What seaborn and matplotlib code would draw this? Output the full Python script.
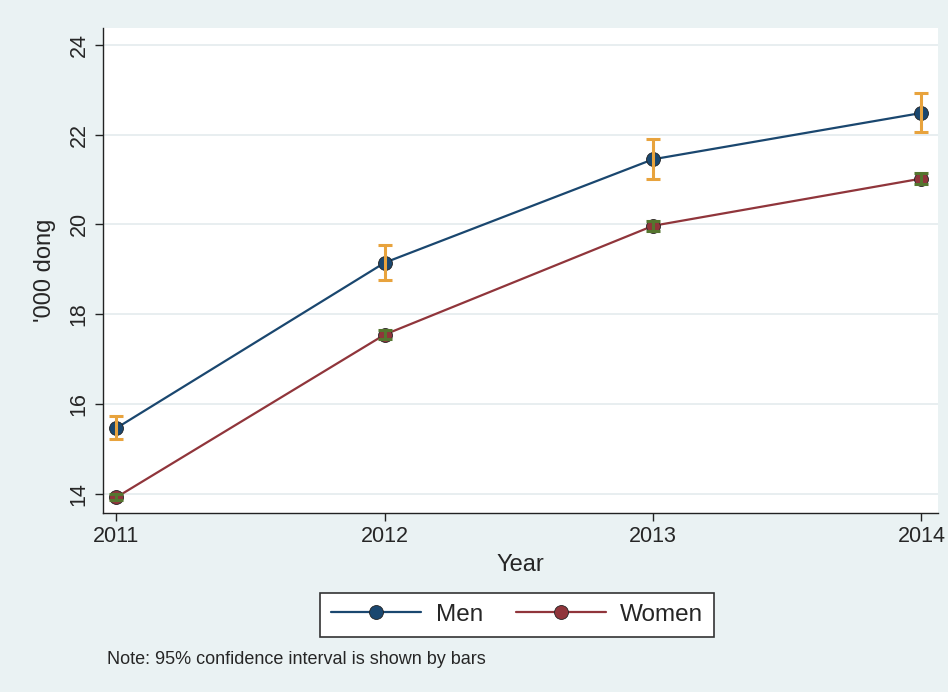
"""
Average earnings by sex, 2011-2014, with 95% confidence intervals
"""

import numpy as np
import pandas as pd
import matplotlib
matplotlib.use("Agg")
import matplotlib.pyplot as plt
import seaborn as sns

years = [2011, 2012, 2013, 2014]
men = [15.47, 19.15, 21.45, 22.48]
men_lo = [15.22, 18.76, 21.00, 22.05]
men_hi = [15.73, 19.55, 21.90, 22.92]
women = [13.93, 17.55, 19.97, 21.02]
women_lo = [13.86, 17.45, 19.86, 20.91]
women_hi = [14.00, 17.66, 20.08, 21.14]

series_names = ["Men", "Women"]
line_colors = ["#1a476f", "#90353b"]
ci_colors = ["#e8a33d", "#55752f"]

BG = "#eaf2f3"

df = pd.DataFrame({
    "Year": years * 2,
    "value": men + women,
    "sex": ["Men"] * len(years) + ["Women"] * len(years),
})

sns.set_style("white")
plt.rcParams["font.family"] = ["Liberation Sans", "DejaVu Sans"]

fig = plt.figure(figsize=(9.48, 6.92), dpi=100, facecolor=BG)
ax = fig.add_axes([0.1087, 0.2587, 0.8803, 0.7008])
ax.set_facecolor("white")

sns.lineplot(
    data=df, x="Year", y="value", hue="sex",
    hue_order=series_names, palette=line_colors,
    marker="o", markersize=10, markeredgecolor="#222222", markeredgewidth=0.6,
    linewidth=1.6, ax=ax, zorder=3, legend=True,
)

# confidence interval bars drawn over the markers
for lo, hi, mid, col in [(men_lo, men_hi, men, ci_colors[0]),
                         (women_lo, women_hi, women, ci_colors[1])]:
    mid = np.array(mid)
    err = [mid - np.array(lo), np.array(hi) - mid]
    ax.errorbar(years, mid, yerr=err, fmt="none", ecolor=col,
                elinewidth=2.2, capsize=5, capthick=2.2, zorder=4)

ax.set_xlim(2010.95, 2014.06)
ax.set_ylim(13.58, 24.37)
ax.set_xticks(years)
ax.set_yticks([14, 16, 18, 20, 22, 24])
ax.yaxis.grid(True, color="#e8eef0", linewidth=1.4)
ax.set_axisbelow(True)

for s in ["top", "right"]:
    ax.spines[s].set_visible(False)
for s in ["left", "bottom"]:
    ax.spines[s].set_color("#222222")
    ax.spines[s].set_linewidth(1.0)

ax.tick_params(axis="both", which="major", length=6, width=1.0,
               color="#222222", labelsize=15.5, left=True, bottom=True)
for lab in ax.get_yticklabels():
    lab.set_rotation(90)
    lab.set_va("center")

ax.set_xlabel("Year", fontsize=17, labelpad=5)
ax.set_ylabel("'000 dong", fontsize=17, labelpad=9)

handles, labels = ax.get_legend_handles_labels()
ax.get_legend().remove()
leg = fig.legend(handles, labels, loc="center", bbox_to_anchor=(0.5455, 0.1115),
                 ncol=2, fontsize=17.5, frameon=True, fancybox=False,
                 edgecolor="#333333", facecolor="white", framealpha=1,
                 handlelength=3.7, handletextpad=0.6, columnspacing=1.35,
                 borderpad=0.45, borderaxespad=0)
leg.get_frame().set_linewidth(1.2)

fig.text(0.113, 0.047, "Note: 95% confidence interval is shown by bars",
         fontsize=13, ha="left", va="center")

fig.savefig("out.png", dpi=100, facecolor=BG)
